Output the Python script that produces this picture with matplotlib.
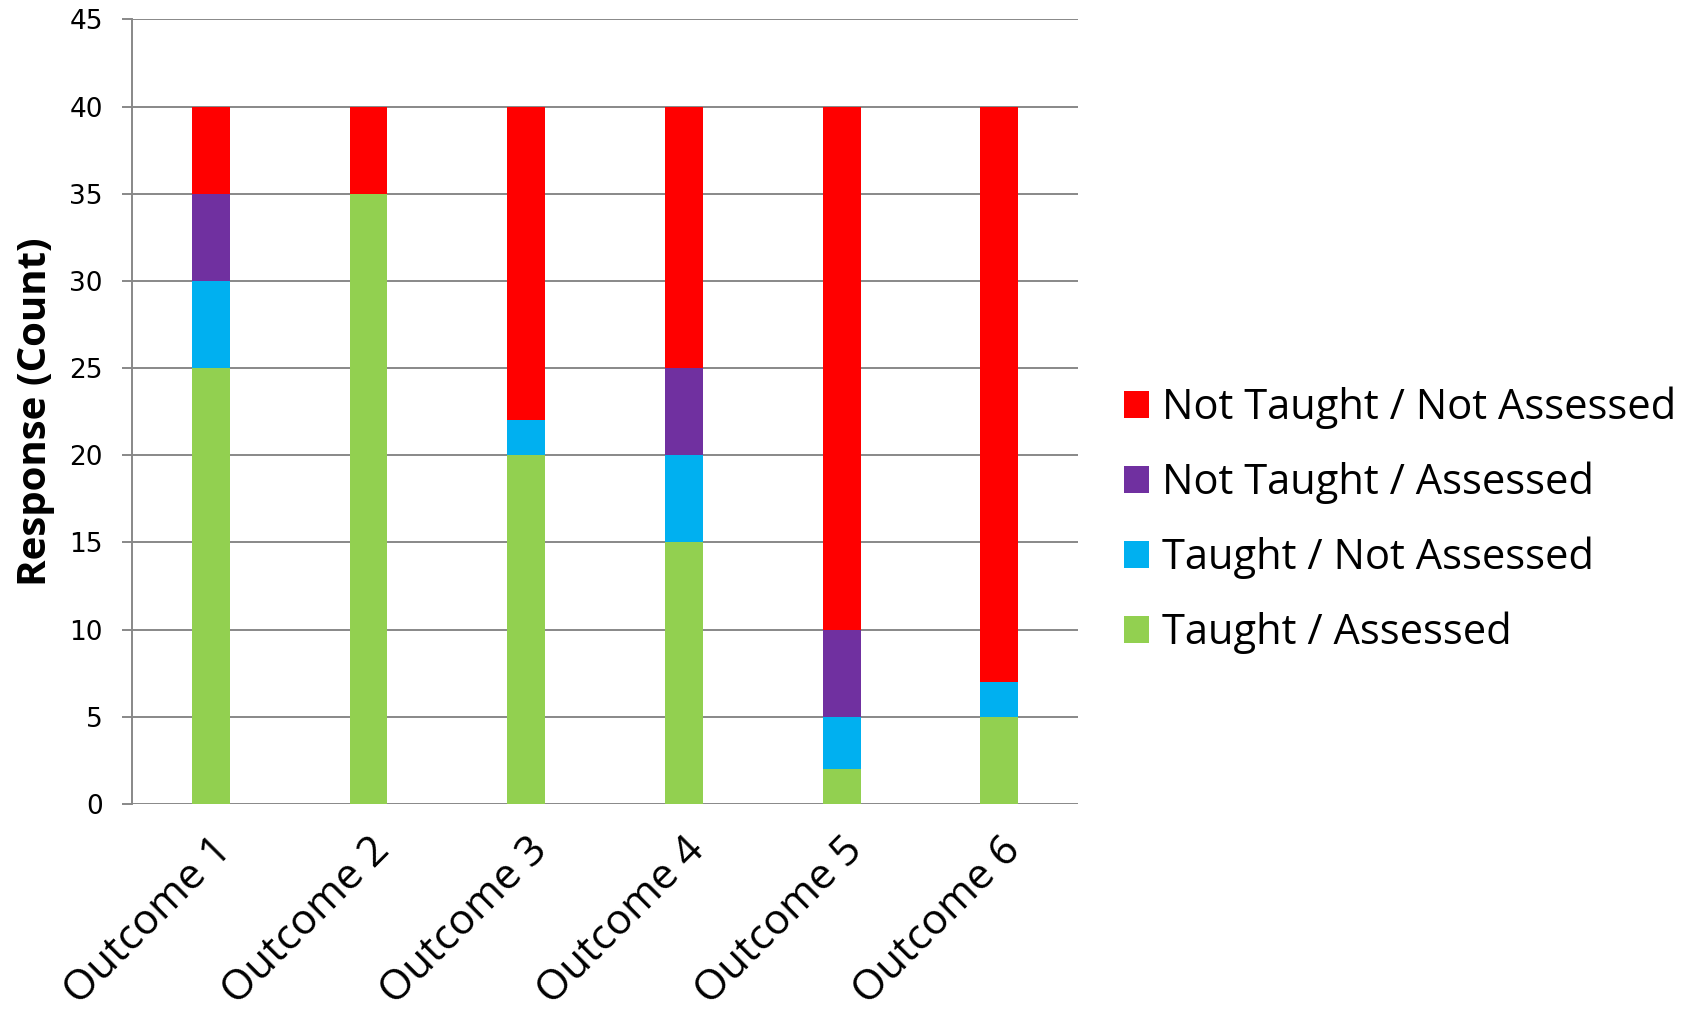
import matplotlib
matplotlib.use("Agg")
import matplotlib.pyplot as plt
import numpy as np

outcomes = ["Outcome 1", "Outcome 2", "Outcome 3", "Outcome 4", "Outcome 5", "Outcome 6"]
taught_assessed = [25, 35, 20, 15, 2, 5]
taught_not_assessed = [5, 0, 2, 5, 3, 2]
not_taught_assessed = [5, 0, 0, 5, 5, 0]
not_taught_not_assessed = [5, 5, 18, 15, 30, 33]
y_ticks = [0, 5, 10, 15, 20, 25, 30, 35, 40, 45]

series = [
    ("Taught / Assessed", taught_assessed, "#92D050"),
    ("Taught / Not Assessed", taught_not_assessed, "#00B0F0"),
    ("Not Taught / Assessed", not_taught_assessed, "#7030A0"),
    ("Not Taught / Not Assessed", not_taught_not_assessed, "#FF0000"),
]

plt.rcParams["font.family"] = ["Open Sans", "DejaVu Sans"]

fig = plt.figure(figsize=(16.97, 10.17), dpi=100)
ax = fig.add_axes([0.0778, 0.2094, 0.5575, 0.7716])

x = np.arange(len(outcomes))
bottom = np.zeros(len(outcomes))
handles = []
for label, vals, color in series:
    vals = np.array(vals, dtype=float)
    h = ax.bar(x, vals, width=0.24, bottom=bottom, color=color, label=label, zorder=3)
    handles.append(h)
    bottom += vals

ax.set_xlim(-0.5, len(outcomes) - 0.5)
ax.set_ylim(0, 45)
ax.set_yticks(y_ticks)
ax.set_yticklabels([str(t) for t in y_ticks], fontsize=19, family="DejaVu Sans")
ax.yaxis.grid(True, color="#888888", linewidth=1.4, zorder=0)
ax.set_axisbelow(True)

for side in ["top", "right", "bottom"]:
    ax.spines[side].set_visible(False)
ax.spines["left"].set_color("#888888")
ax.spines["left"].set_linewidth(1.4)

ax.tick_params(axis="y", length=7, width=1.4, color="#888888", pad=14)
ax.tick_params(axis="x", length=0, pad=18)
ax.set_xticks(x)
ax.set_xticklabels(outcomes, rotation=45, ha="right", va="top",
                   rotation_mode="anchor", fontsize=30.5)

ax.set_ylabel("Response (Count)", fontsize=29, fontweight="bold", labelpad=10)

leg = fig.legend(handles[::-1], [s[0] for s in series][::-1],
                 loc="center left", bbox_to_anchor=(0.64, 0.4886),
                 frameon=False, fontsize=30, handlelength=0.62, handleheight=0.62,
                 handletextpad=0.3, labelspacing=0.78)

fig.savefig("out.png", dpi=100)
